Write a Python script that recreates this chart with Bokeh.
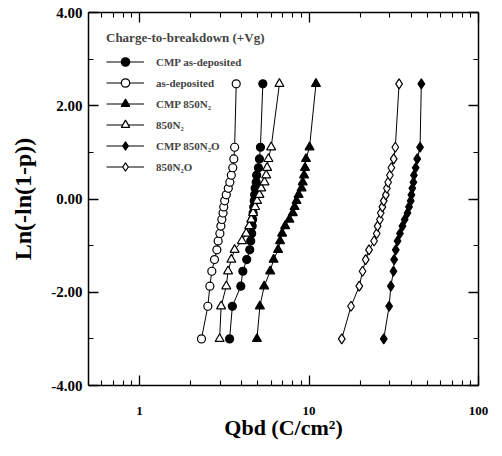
from bokeh.plotting import figure
from bokeh.models import (FixedTicker, NumeralTickFormatter, PrintfTickFormatter, LogAxis,
                          LinearAxis, Legend, LegendItem, Range1d)
from bokeh.embed import file_html
from bokeh.resources import INLINE

# Weibull plotting positions Ln(-ln(1-p)) (shared by all series)
y_rank = [-3.00, -2.30, -1.87, -1.55, -1.30, -1.09, -0.90, -0.74, -0.58, -0.44, -0.30,
          -0.17, -0.04, 0.09, 0.23, 0.36, 0.51, 0.67, 0.86, 1.11, 2.47]

# Qbd (C/cm^2) for each series, bottom to top
qbd_cmp_asdep = [3.40, 3.53, 3.96, 4.07, 4.29, 4.47, 4.53, 4.59, 4.62, 4.65, 4.68,
                 4.72, 4.75, 4.78, 4.81, 4.88, 4.91, 5.03, 5.10, 5.17, 5.34]
qbd_asdep = [2.32, 2.53, 2.60, 2.67, 2.77, 2.86, 2.91, 2.98, 3.02, 3.06, 3.11,
             3.14, 3.18, 3.25, 3.34, 3.41, 3.48, 3.55, 3.60, 3.64, 3.72]
qbd_cmp_850n2 = [4.93, 5.13, 5.44, 5.90, 6.18, 6.57, 6.75, 6.94, 7.23, 7.66, 8.02,
                 8.22, 8.44, 8.68, 9.04, 9.18, 9.35, 9.47, 9.60, 10.07, 10.99]
qbd_850n2 = [2.97, 3.03, 3.25, 3.33, 3.48, 3.64, 4.02, 4.26, 4.44, 4.56, 4.68,
             4.81, 4.94, 5.10, 5.22, 5.46, 5.59, 5.66, 5.76, 5.98, 6.69]
qbd_cmp_850n2o = [27.6, 29.7, 30.4, 31.5, 31.8, 32.5, 33.3, 34.4, 35.6, 36.7, 38.1,
                  38.9, 39.8, 40.2, 40.7, 41.3, 41.6, 42.6, 43.5, 45.2, 46.0]
qbd_850n2o = [15.6, 17.7, 19.8, 20.7, 21.6, 22.6, 24.2, 25.1, 25.4, 26.2, 26.5,
              27.1, 27.6, 28.4, 28.8, 29.3, 30.0, 30.6, 31.6, 32.3, 34.0]

labels = ["CMP as-deposited", "as-deposited", "CMP 850N\u2082", "850N\u2082",
          "CMP 850N\u2082O", "850N\u2082O"]
series = [qbd_cmp_asdep, qbd_asdep, qbd_cmp_850n2, qbd_850n2, qbd_cmp_850n2o, qbd_850n2o]
markers = ["circle", "circle", "triangle", "triangle", "diamond", "diamond"]
fills = ["black", "white", "black", "white", "black", "white"]
sizes = [8, 8, 9, 9, 10, 10]

x_major = [1, 10, 100]
x_minor = [0.6, 0.7, 0.8, 0.9, 2, 3, 4, 5, 6, 7, 8, 9, 20, 30, 40, 50, 60, 70, 80, 90]
y_major = [-4, -2, 0, 2, 4]
y_minor = [-3, -1, 1, 3]

FONT = "Liberation Serif"

p = figure(width=494, height=448, x_axis_type="log",
           x_range=Range1d(0.5, 100), y_range=Range1d(-4, 4),
           output_backend="svg", toolbar_location=None,
           min_border_left=88, min_border_right=16, min_border_top=12, min_border_bottom=63)
p.grid.visible = False
p.outline_line_color = None
p.background_fill_color = "white"
p.border_fill_color = "white"


def style_axis(ax, show_labels):
    ax.axis_line_color = "black"
    ax.axis_line_width = 1.5
    ax.major_tick_in = 10
    ax.major_tick_out = 0
    ax.minor_tick_in = 5
    ax.minor_tick_out = 0
    ax.major_tick_line_color = "black"
    ax.minor_tick_line_color = "black"
    ax.major_tick_line_width = 1.3
    ax.minor_tick_line_width = 1.1
    ax.major_label_text_font = FONT
    ax.major_label_text_font_style = "bold"
    ax.major_label_text_color = "black"
    ax.axis_label_text_color = "black"
    if not show_labels:
        ax.major_label_text_font_size = "1px"
        ax.major_label_text_alpha = 0
        ax.major_label_standoff = 0


xt = FixedTicker(ticks=x_major, minor_ticks=x_minor)
yt = FixedTicker(ticks=y_major, minor_ticks=y_minor)

xa = p.xaxis[0]
xa.ticker = xt
xa.formatter = PrintfTickFormatter(format="%d")
style_axis(xa, True)
xa.major_label_text_font_size = "13px"
xa.major_label_standoff = 21
xa.axis_label = "Qbd (C/cm\u00b2)"
xa.axis_label_text_font = FONT
xa.axis_label_text_font_style = "bold"
xa.axis_label_text_font_size = "22px"
xa.axis_label_standoff = -3

ya = p.yaxis[0]
ya.ticker = yt
ya.formatter = NumeralTickFormatter(format="0.00")
style_axis(ya, True)
ya.major_label_text_font_size = "15px"
ya.major_label_standoff = 6
ya.axis_label = "Ln(-ln(1-p))"
ya.axis_label_text_font = FONT
ya.axis_label_text_font_style = "bold"
ya.axis_label_text_font_size = "24px"
ya.axis_label_standoff = 12

top_ax = LogAxis(ticker=FixedTicker(ticks=x_major, minor_ticks=x_minor),
                 formatter=PrintfTickFormatter(format="%d"))
style_axis(top_ax, False)
p.add_layout(top_ax, "above")
right_ax = LinearAxis(ticker=FixedTicker(ticks=y_major, minor_ticks=y_minor),
                      formatter=NumeralTickFormatter(format="0.00"))
style_axis(right_ax, False)
p.add_layout(right_ax, "right")

items = []
for lab, xs, mk, fc, sz in zip(labels, series, markers, fills, sizes):
    lr = p.line(xs, y_rank, line_color="black", line_width=1)
    sr = p.scatter(xs, y_rank, marker=mk, size=sz, fill_color=fc,
                   line_color="black", line_width=1.2)
    items.append(LegendItem(label=lab, renderers=[lr, sr]))

legend = Legend(items=items, location="top_left",
                title="Charge-to-breakdown (+Vg)",
                title_text_font=FONT, title_text_font_style="bold",
                title_text_font_size="13px", title_standoff=5,
                label_text_font=FONT, label_text_font_style="bold",
                label_text_font_size="11px",
                glyph_width=38, glyph_height=21, spacing=0, label_height=21,
                label_standoff=12, padding=10, margin=8,
                border_line_alpha=0, background_fill_alpha=0)
p.add_layout(legend)

open("out.html", "w").write(file_html(p, INLINE))
